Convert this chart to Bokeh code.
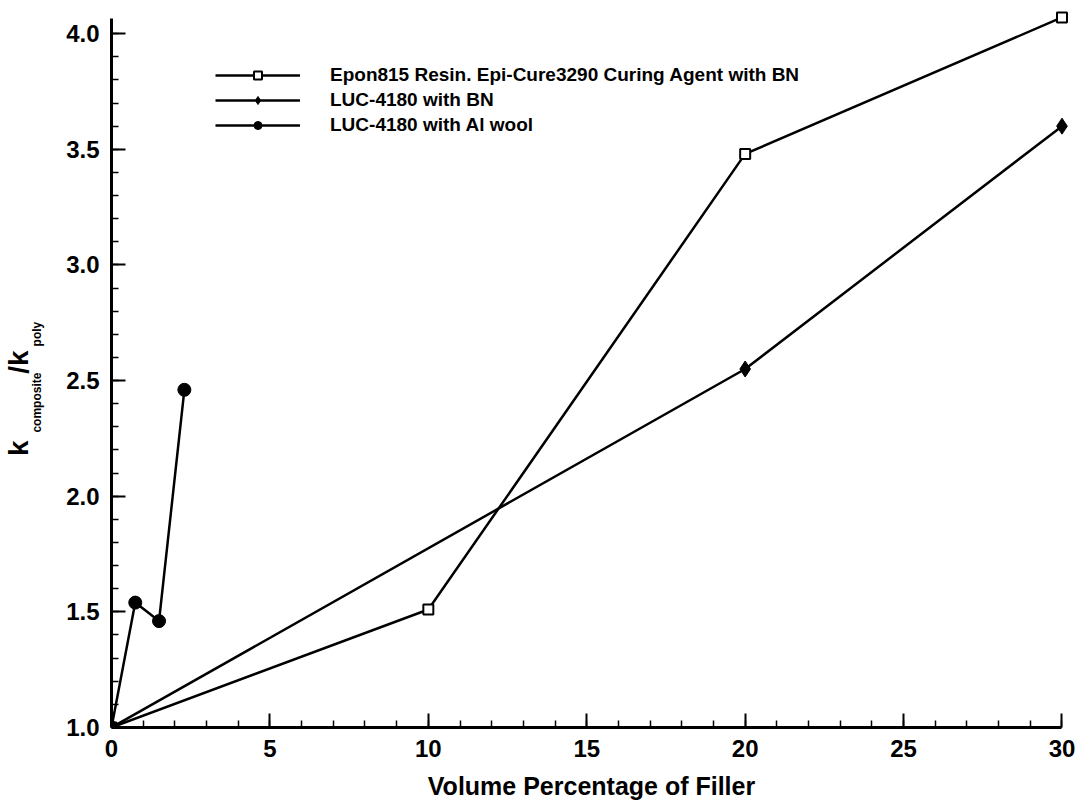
from bokeh.plotting import figure
from bokeh.models import (Range1d, SingleIntervalTicker, FixedTicker, PrintfTickFormatter,
                          LinearAxis)
from bokeh.embed import file_html
from bokeh.resources import INLINE

# ---- data ----
epon_x = [0, 10, 20, 30]
epon_y = [1.0, 1.51, 3.48, 4.07]
bn_x = [0, 20, 30]
bn_y = [1.0, 2.55, 3.60]
al_x = [0, 0.75, 1.5, 2.3]
al_y = [1.0, 1.54, 1.46, 2.46]

series_names = [
    "Epon815 Resin. Epi-Cure3290 Curing Agent with BN",
    "LUC-4180 with BN",
    "LUC-4180 with Al wool",
]
x_title = "Volume Percentage of Filler"
# y title "k_composite / k_poly": main parts and subscript parts (keyed by text centre)
y_main_parts = {2.208: "k", 2.580: "/k"}
y_sub_parts = {2.405: "composite", 2.701: "poly"}

FONT = "Liberation Sans"

p = figure(
    frame_width=960, frame_height=717,
    x_range=Range1d(0, 30.3), y_range=Range1d(1.0, 4.1),
    output_backend="svg", toolbar_location=None,
    min_border_left=111, min_border_top=10, min_border_bottom=60, min_border_right=5,
)
p.outline_line_color = None
p.xgrid.visible = False
p.ygrid.visible = False

for ax in (p.xaxis, p.yaxis):
    ax.axis_line_width = 3
    ax.axis_line_color = "black"
    ax.major_tick_in = 14
    ax.major_tick_out = 0
    ax.minor_tick_in = 7
    ax.minor_tick_out = 0
    ax.major_tick_line_width = 2
    ax.minor_tick_line_width = 1.5
    ax.major_label_text_font = FONT
    ax.major_label_text_font_style = "bold"
    ax.major_label_text_font_size = "24px"
    ax.major_label_text_color = "black"
    ax.major_label_standoff = 12

p.xaxis.bounds = (0, 30)
p.xaxis.ticker = SingleIntervalTicker(interval=5, num_minor_ticks=5)
p.xaxis.axis_label = x_title
p.xaxis.axis_label_text_font = FONT
p.xaxis.axis_label_text_font_style = "bold"
p.xaxis.axis_label_text_font_size = "25px"
p.xaxis.axis_label_text_color = "black"
p.xaxis.axis_label_standoff = 12

p.yaxis.bounds = (1.0, 4.065)
p.yaxis.ticker = SingleIntervalTicker(interval=0.5, num_minor_ticks=5)
p.yaxis.formatter = PrintfTickFormatter(format="%.1f")


def text_axis(parts, size, standoff):
    ax = LinearAxis(
        ticker=FixedTicker(ticks=list(parts.keys())),
        major_label_overrides={k: v for k, v in parts.items()},
        major_label_orientation="vertical",
        major_label_standoff=standoff,
        major_label_text_font=FONT,
        major_label_text_font_style="bold",
        major_label_text_font_size=size,
        major_label_text_color="black",
        axis_line_color=None,
        major_tick_line_color=None,
        minor_tick_line_color=None,
        major_tick_in=0, major_tick_out=0,
    )
    p.add_layout(ax, "left")
    return ax


text_axis(y_sub_parts, "12px", 19)
text_axis(y_main_parts, "28px", -7)

LW = 2.5
p.line(epon_x, epon_y, line_width=LW, color="black", legend_label=series_names[0])
p.scatter(epon_x, epon_y, marker="square", size=10, fill_color="white",
          line_color="black", line_width=2, legend_label=series_names[0])

p.line(bn_x, bn_y, line_width=LW, color="black", legend_label=series_names[1])
p.scatter(bn_x, bn_y, marker="diamond", size=16, fill_color="black",
          line_color="black", legend_label=series_names[1])

p.line(al_x, al_y, line_width=LW, color="black", legend_label=series_names[2])
p.scatter(al_x, al_y, marker="circle", size=13, fill_color="black",
          line_color="black", legend_label=series_names[2])

lg = p.legend[0]
lg.location = (104, 591)
lg.padding = 0
lg.margin = 0
lg.spacing = 3
lg.glyph_width = 85
lg.glyph_height = 20
lg.label_height = 20
lg.label_standoff = 30
lg.border_line_color = None
lg.background_fill_alpha = 0
lg.label_text_font = FONT
lg.label_text_font_style = "bold"
lg.label_text_font_size = "19px"
lg.label_text_color = "black"

open("out.html", "w").write(file_html(p, INLINE))
